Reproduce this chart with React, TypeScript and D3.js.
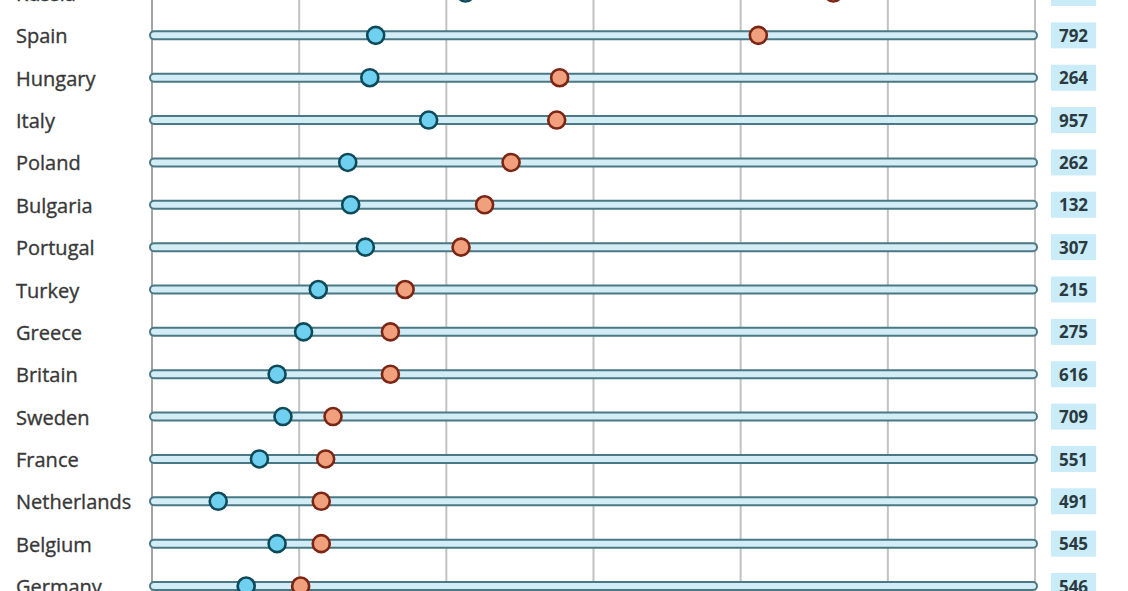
import React, { useEffect, useRef } from "react";
import * as d3 from "d3";

const countries = [
  "Russia", "Spain", "Hungary", "Italy", "Poland", "Bulgaria", "Portugal", "Turkey",
  "Greece", "Britain", "Sweden", "France", "Netherlands", "Belgium", "Germany",
];
const blueValues = [21.3, 15.2, 14.8, 18.8, 13.3, 13.5, 14.5, 11.3, 10.3, 8.5, 8.9, 7.3, 4.5, 8.5, 6.4];
const redValues = [46.3, 41.2, 27.7, 27.5, 24.4, 22.6, 21.0, 17.2, 16.2, 16.2, 12.3, 11.8, 11.5, 11.5, 10.1];
const counts = ["254", "792", "264", "957", "262", "132", "307", "215", "275", "616", "709", "551", "491", "545", "546"];
const gridTicks = [0, 10, 20, 30, 40, 50, 60];

const W = 1128;
const H = 591;

const drawChart = (svgEl: SVGSVGElement) => {
  const svg = d3.select(svgEl);
  svg.selectAll("*").remove();

  const x = d3.scaleLinear().domain([0, 60]).range([152, 1035]);
  const y = d3.scalePoint().domain(countries).range([-7, 586]);

  // vertical gridlines
  svg
    .append("g")
    .selectAll("line")
    .data(gridTicks)
    .enter()
    .append("line")
    .attr("x1", (d) => x(d))
    .attr("x2", (d) => x(d))
    .attr("y1", 0)
    .attr("y2", H)
    .attr("stroke", (d) => (d === 0 ? "#a4a4a4" : "#c2c2c2"))
    .attr("stroke-width", 2);

  const rows = svg
    .append("g")
    .selectAll("g")
    .data(countries)
    .enter()
    .append("g")
    .attr("transform", (d) => `translate(0,${y(d)})`);

  // country names
  rows
    .append("text")
    .attr("x", 16)
    .attr("y", 1)
    .attr("dy", "0.35em")
    .attr("font-family", "'Open Sans', sans-serif")
    .attr("font-size", 20)
    .attr("fill", "#383838")
    .attr("stroke", "#383838")
    .attr("stroke-width", 0.35)
    .text((d) => d);

  // tube lines
  rows
    .append("rect")
    .attr("x", x(0) - 2)
    .attr("y", -4)
    .attr("width", x(60) - x(0) + 4)
    .attr("height", 8)
    .attr("rx", 4)
    .attr("fill", "#d2edf5")
    .attr("stroke", "#4a7884")
    .attr("stroke-width", 2);

  // blue dots
  rows
    .append("circle")
    .attr("cx", (d, i) => x(blueValues[i]))
    .attr("cy", 0)
    .attr("r", 8.5)
    .attr("fill", "#6fd1ef")
    .attr("stroke", "#0e4a5a")
    .attr("stroke-width", 2.6);

  // red dots
  rows
    .append("circle")
    .attr("cx", (d, i) => x(redValues[i]))
    .attr("cy", 0)
    .attr("r", 8.5)
    .attr("fill", "#f0a07c")
    .attr("stroke", "#7b2514")
    .attr("stroke-width", 2.6);

  // count boxes
  rows
    .append("rect")
    .attr("x", 1051)
    .attr("y", -13)
    .attr("width", 45)
    .attr("height", 26)
    .attr("fill", "#c9ecf8");

  rows
    .append("text")
    .attr("x", 1073.5)
    .attr("y", 0.5)
    .attr("dy", "0.36em")
    .attr("text-anchor", "middle")
    .attr("font-family", "'Open Sans', sans-serif")
    .attr("font-weight", 700)
    .attr("font-size", 17)
    .attr("fill", "#2b3a40")
    .text((d, i) => counts[i]);
};

const App = () => {
  const ref = useRef<SVGSVGElement>(null);
  useEffect(() => {
    if (ref.current) drawChart(ref.current);
  }, []);
  return (
    <svg
      ref={ref}
      width={W}
      height={H}
      style={{ position: "absolute", left: 0, top: 0, background: "#fff" }}
    ></svg>
  );
};

export default App;
